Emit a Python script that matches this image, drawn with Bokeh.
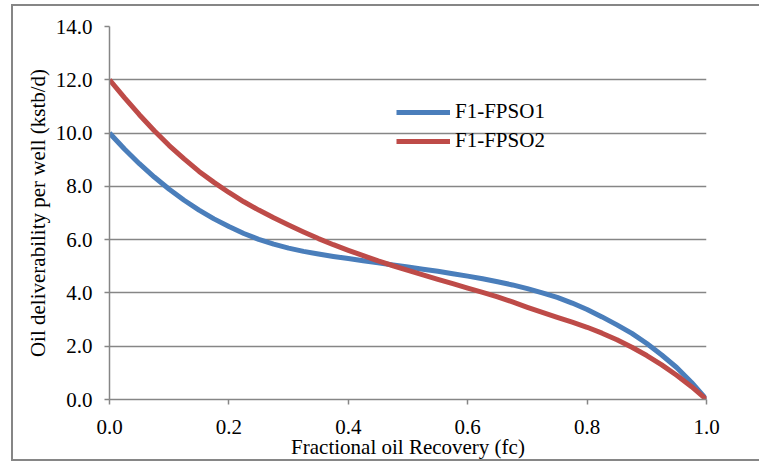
from bokeh.plotting import figure
from bokeh.models import (Legend, LegendItem, FixedTicker, NumeralTickFormatter,
                          Range1d, InlineStyleSheet)
from bokeh.embed import file_html
from bokeh.resources import INLINE

# ---- data ----
recovery = [0.000, 0.025, 0.050, 0.075, 0.100, 0.125, 0.150, 0.175, 0.200, 0.225,
            0.250, 0.275, 0.300, 0.325, 0.350, 0.375, 0.400, 0.425, 0.450, 0.475,
            0.500, 0.525, 0.550, 0.575, 0.600, 0.625, 0.650, 0.675, 0.700, 0.725,
            0.750, 0.775, 0.800, 0.825, 0.850, 0.875, 0.900, 0.925, 0.950, 0.975,
            1.000]
fpso1 = [10.0, 9.4, 8.85, 8.35, 7.89, 7.48, 7.11, 6.78, 6.49, 6.23,
         6.01, 5.83, 5.68, 5.56, 5.46, 5.37, 5.29, 5.21, 5.13, 5.05,
         4.97, 4.89, 4.81, 4.72, 4.63, 4.53, 4.42, 4.3, 4.16, 4.0,
         3.83, 3.62, 3.38, 3.1, 2.8, 2.48, 2.1, 1.67, 1.2, 0.64,
         0.0]
fpso2 = [12.0, 11.33, 10.69, 10.09, 9.53, 9.03, 8.56, 8.15, 7.77, 7.42,
         7.11, 6.82, 6.55, 6.29, 6.04, 5.81, 5.6, 5.4, 5.2, 5.02,
         4.85, 4.68, 4.51, 4.35, 4.18, 4.02, 3.85, 3.66, 3.46, 3.27,
         3.08, 2.9, 2.71, 2.49, 2.24, 1.96, 1.65, 1.3, 0.91, 0.48,
         0.0]
series_names = ["F1-FPSO1", "F1-FPSO2"]
x_ticks = [0.0, 0.2, 0.4, 0.6, 0.8, 1.0]
y_ticks = [0, 2, 4, 6, 8, 10, 12, 14]
x_title = "Fractional oil Recovery (fc)"
y_title = "Oil deliverability per well (kstb/d)"

FONT = "'Liberation Serif', 'Times New Roman', serif"
FS = "21px"
GRAY = "#868686"
BLUE = "#4A7EBB"
RED = "#BE4B48"

frame_css = InlineStyleSheet(css="""
:host { position: relative; }
:host::after {
  content: "";
  position: absolute;
  left: 11px; top: 4px;
  width: 748px; height: 457px;
  box-sizing: border-box;
  border: 2px solid #868686;
  border-right: none;
  pointer-events: none;
}
""")

p = figure(width=759, height=461, output_backend="svg", toolbar_location=None,
           x_range=Range1d(0, 1), y_range=Range1d(0, 14),
           min_border_left=109, min_border_right=53,
           min_border_top=26, min_border_bottom=62,
           stylesheets=[frame_css])
p.outline_line_color = None
p.background_fill_color = "white"
p.border_fill_color = "white"

l1 = p.line(recovery, fpso1, line_color=BLUE, line_width=5, line_join="round")
l2 = p.line(recovery, fpso2, line_color=RED, line_width=5, line_join="round")

for ax in (p.xaxis[0], p.yaxis[0]):
    ax.axis_line_color = GRAY
    ax.axis_line_width = 1.5
    ax.major_tick_line_color = GRAY
    ax.major_tick_line_width = 1.5
    ax.major_tick_in = 0
    ax.major_tick_out = 5
    ax.minor_tick_line_color = None
    ax.major_label_text_font = FONT
    ax.major_label_text_font_size = FS
    ax.major_label_text_color = "black"
    ax.axis_label_text_font = FONT
    ax.axis_label_text_font_size = FS
    ax.axis_label_text_font_style = "normal"
    ax.axis_label_text_color = "black"
    ax.formatter = NumeralTickFormatter(format="0.0")

p.xaxis[0].ticker = FixedTicker(ticks=x_ticks)
p.yaxis[0].ticker = FixedTicker(ticks=y_ticks)
p.xaxis[0].axis_label = x_title
p.yaxis[0].axis_label = y_title
p.xaxis[0].major_label_standoff = 15
p.xaxis[0].axis_label_standoff = -2
p.yaxis[0].major_label_standoff = 12
p.yaxis[0].axis_label_standoff = 3

p.xgrid.grid_line_color = None
p.ygrid.grid_line_color = GRAY
p.ygrid.grid_line_width = 1.5
p.ygrid.ticker = FixedTicker(ticks=y_ticks)

legend = Legend(items=[LegendItem(label=series_names[0], renderers=[l1]),
                       LegendItem(label=series_names[1], renderers=[l2])],
                location=(287, 246))
legend.label_text_font = FONT
legend.label_text_font_size = FS
legend.label_text_color = "black"
legend.glyph_width = 54
legend.glyph_height = 24
legend.label_height = 24
legend.label_standoff = 5
legend.spacing = 4
legend.padding = 0
legend.margin = 0
legend.border_line_color = None
legend.background_fill_alpha = 0
p.add_layout(legend, "center")

open("out.html", "w").write(file_html(p, INLINE))
